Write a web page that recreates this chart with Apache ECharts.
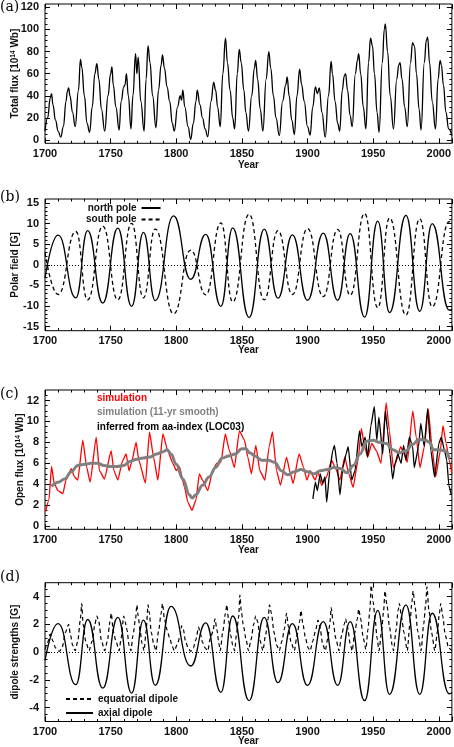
<!DOCTYPE html>
<html>
<head>
<meta charset="utf-8">
<title>Solar flux reconstruction</title>
<script src="https://cdn.jsdelivr.net/npm/echarts@6/dist/echarts.min.js"></script>
<style>
  html, body { margin: 0; padding: 0; background: #fff; }
  #chart { width: 454px; height: 747px; }
</style>
</head>
<body>
<div id="chart"></div>
<script>
  // ---- data: [year, value] ----
  // (a) total flux [1e14 Wb]
  var totalFlux = [
    [1700, 8], [1702, 20], [1704, 38], [1705, 42], [1706, 32], [1708, 18], [1710, 8], [1712, 2.5],
    [1714, 12], [1716, 35], [1717, 44], [1718, 47], [1719, 40], [1721, 25], [1723, 12],
    [1725.5, 45], [1727, 73], [1728, 66], [1730, 40], [1732, 15], [1734, 7],
    [1736, 30], [1738, 60], [1739.5, 69], [1741, 55], [1743, 28], [1745.5, 8],
    [1748, 40], [1750, 60], [1751, 66], [1752, 50], [1754, 30], [1756.5, 9],
    [1758, 35], [1760, 48], [1761, 50], [1762, 60], [1763.5, 40], [1765.5, 10],
    [1767, 40], [1769, 78], [1770, 60], [1771, 75], [1773, 35], [1775.5, 8],
    [1777, 55], [1778.5, 85], [1780, 70], [1782, 40], [1784.5, 11],
    [1786.5, 45], [1788.5, 68], [1789.5, 77], [1791, 65], [1793, 48], [1795, 35], [1797, 15], [1798.5, 8],
    [1801, 30], [1803, 40], [1804, 36], [1805, 45], [1806.5, 30], [1809, 12], [1811, 0.5],
    [1813, 15], [1815, 35], [1816, 45], [1818, 32], [1820, 20], [1822, 10], [1824, 3],
    [1826.5, 35], [1828.5, 52], [1830, 45], [1831.5, 30], [1833.5, 12],
    [1835.5, 60], [1837.5, 92], [1839, 70], [1841, 45], [1843, 20], [1844.5, 10],
    [1846.5, 60], [1848, 82], [1849.5, 70], [1851.5, 45], [1853, 25], [1855, 8],
    [1857.5, 40], [1859.5, 65], [1860.5, 72], [1862, 55], [1864, 28], [1866, 8],
    [1868.5, 55], [1870.5, 80], [1872, 65], [1874, 40], [1876, 20], [1878.5, 4],
    [1881, 35], [1883.5, 50], [1884.5, 57], [1886, 40], [1888, 18], [1890, 5],
    [1892, 40], [1894, 64], [1895.5, 50], [1897.5, 35], [1900, 12], [1902, 4.5],
    [1904, 30], [1906, 48], [1907.5, 42], [1909, 47], [1911, 25], [1913.5, 2.5],
    [1916, 40], [1918, 71], [1919, 60], [1921, 35], [1923, 15], [1924.5, 8],
    [1926.5, 45], [1928, 58], [1929, 60], [1930.5, 45], [1932.5, 22], [1934, 12],
    [1936.5, 60], [1938, 72], [1939, 78], [1940.5, 60], [1942.5, 30], [1944.5, 10],
    [1946.5, 70], [1948, 92], [1949.5, 85], [1951, 60], [1953, 25], [1954.5, 7],
    [1957, 70], [1958.5, 100], [1959.3, 105], [1961, 80], [1963, 40], [1965.5, 10],
    [1968, 55], [1969.5, 68], [1970.5, 70], [1972, 55], [1974, 30], [1976, 12],
    [1978.5, 70], [1980, 88], [1981.5, 85], [1983, 60], [1985, 28], [1986.5, 9],
    [1989, 70], [1990.5, 90], [1991.5, 93], [1993, 70], [1995, 35], [1997.5, 10],
    [1999.5, 55], [2001, 72], [2002, 68], [2003.5, 50], [2005.5, 25], [2007.5, 10], [2010, 4]
  ];

  // (b) polar field [G]
  var northPole = [
    [1700, -3.2], [1710, 7.2], [1723.5, -8.0], [1732.5, 8.3], [1744, -9.3], [1755.5, 8.9],
    [1766, -10.1], [1775, 7.9], [1784, -8.7], [1798, 11.9], [1811, -3.5], [1822.5, 7.4],
    [1834, -10.1], [1843, 9.0], [1855.5, -12.8], [1867, 8.7], [1877.5, -8.1], [1888.5, 7.3],
    [1900, -8.6], [1912, 7.7], [1923, -8.6], [1932.5, 7.6], [1943.5, -12.7], [1953.5, 10.6],
    [1962.5, -11.6], [1975, 12.0], [1985.5, -11.3], [1995, 10.0], [2008, -11.0], [2010, -10.8]
  ];
  var southPole = [
    [1700, 3.0], [1710, -7.2], [1723.5, 8.1], [1732.5, -8.5], [1744, 9.4], [1755.5, -8.5],
    [1766, 10.1], [1775, -8.0], [1784, 8.7], [1798, -11.9], [1811, 3.6], [1822.5, -7.3],
    [1834, 10.2], [1843, -9.0], [1855.5, 12.3], [1867, -8.5], [1877.5, 8.3], [1888.5, -7.2],
    [1900, 8.8], [1912, -7.7], [1923, 8.6], [1932.5, -7.4], [1943.5, 12.5], [1953.5, -10.4],
    [1962.5, 11.4], [1975, -12.2], [1985.5, 11.2], [1995, -10.2], [2008, 10.5], [2010, 10.0]
  ];

  // (c) open flux [1e14 Wb]
  var openSim = [
    [1700.4, 1.4], [1703, 2.5], [1705, 5.7], [1707, 4.1], [1709.8, 3.4], [1713.6, 3.1], [1716, 4.4],
    [1720, 5.5], [1722.5, 4.7], [1725, 4.4], [1728.8, 8.2], [1731.8, 5.6], [1734.4, 4.2], [1739, 8.5],
    [1741.5, 5.3], [1745.3, 4.5], [1750.4, 7.2], [1752.5, 5.3], [1755.5, 4.4], [1759, 6.2], [1761.8, 6.9],
    [1764, 5.3], [1766, 6.1], [1769.4, 8.0], [1771.5, 6.3], [1776.5, 4.1], [1779.6, 9.0], [1782.7, 6.6],
    [1786, 4.4], [1789.8, 8.8], [1793.5, 7.2], [1797.4, 6.0], [1800, 5.3], [1802.4, 5.7], [1806.3, 3.7],
    [1808.8, 2.3], [1812, 1.5], [1815, 2.5], [1817.6, 5.0], [1820, 4.4], [1824, 3.4], [1827.8, 5.3],
    [1830.8, 6.0], [1834, 6.1], [1837.4, 8.8], [1840.5, 7.2], [1844.3, 5.6], [1848.1, 9.1], [1852, 8.2],
    [1854.5, 6.6], [1857.3, 5.0], [1860.6, 7.7], [1863.7, 5.3], [1867.5, 4.4], [1870.8, 7.6], [1873.3, 9.0],
    [1876.4, 5.3], [1879.4, 3.9], [1884, 6.6], [1887, 5.0], [1889, 4.1], [1893.6, 6.9], [1897, 5.6],
    [1899.6, 4.4], [1902, 5.3], [1905.8, 4.4], [1908, 5.2], [1910.7, 3.9], [1914.5, 4.7], [1918.3, 6.3],
    [1921.5, 5.5], [1924.6, 4.4], [1928.4, 6.6], [1931.5, 5.0], [1934.7, 3.7], [1938.5, 6.3], [1941, 9.3],
    [1943.5, 7.6], [1945.8, 6.6], [1949, 7.9], [1952.5, 7.2], [1956, 6.0], [1959.9, 11.8], [1962.4, 9.1],
    [1965.4, 5.6], [1968, 6.3], [1971, 7.6], [1973.5, 6.9], [1976, 6.1], [1980.2, 11.0], [1982.8, 8.5],
    [1985.7, 5.6], [1989, 7.6], [1992, 11.2], [1994.8, 7.6], [1997.6, 4.7], [2001.2, 7.2], [2003.2, 9.6],
    [2005.6, 7.9], [2008, 6.3], [2010, 5.0]
  ];
  var openSmooth = [
    [1705, 3.8], [1710, 4.2], [1715, 4.5], [1720, 5.2], [1725, 5.8], [1730, 5.9], [1735, 6.0], [1740, 6.0],
    [1745, 5.8], [1750, 5.7], [1755, 5.7], [1760, 5.8], [1765, 6.2], [1770, 6.4], [1775, 6.5], [1780, 6.6],
    [1785, 6.9], [1790, 7.1], [1793, 7.3], [1796, 6.9], [1800, 5.9], [1805, 4.5], [1810, 3.0], [1812, 2.7],
    [1815, 3.0], [1820, 3.9], [1825, 4.7], [1830, 5.6], [1835, 6.5], [1840, 6.7], [1845, 6.9], [1850, 7.4],
    [1853, 7.4], [1856, 7.0], [1860, 6.7], [1865, 6.3], [1870, 6.3], [1875, 6.1], [1880, 5.3], [1885, 4.9],
    [1890, 5.2], [1895, 5.4], [1900, 5.2], [1905, 5.0], [1910, 5.3], [1915, 5.4], [1920, 5.6], [1925, 5.5],
    [1930, 5.1], [1935, 5.8], [1940, 6.9], [1945, 8.1], [1950, 8.2], [1955, 8.0], [1960, 7.9], [1965, 7.3],
    [1970, 7.0], [1975, 7.2], [1980, 7.8], [1985, 8.3], [1990, 8.2], [1993, 8.0], [1996, 7.3], [2000, 7.3],
    [2005, 7.2], [2008, 6.5]
  ];
  var openAa = [
    [1904.1, 2.6], [1906, 4.2], [1907.5, 3.4], [1909.7, 5.0], [1911.5, 4.1], [1913.3, 4.7], [1914.6, 2.3],
    [1917, 5.3], [1919.2, 7.2], [1920.5, 7.7], [1922.5, 6.0], [1924.7, 3.0], [1927, 5.6], [1929.4, 6.9],
    [1931, 7.6], [1933.7, 4.4], [1936.2, 5.3], [1939.6, 9.1], [1941.4, 7.6], [1943.9, 8.5], [1945.8, 6.6],
    [1948.3, 9.6], [1950.9, 11.4], [1952.8, 8.2], [1954.4, 10.4], [1957.3, 6.9], [1959.3, 11.0],
    [1961, 9.1], [1962.8, 6.9], [1964.9, 4.5], [1966.8, 6.0], [1968.8, 6.9], [1971.3, 6.0], [1973.2, 7.7],
    [1975, 6.3], [1977.6, 8.5], [1980.1, 7.6], [1981.3, 5.6], [1984.6, 7.6], [1986.3, 9.8], [1988.9, 7.6],
    [1991.5, 11.2], [1994, 7.2], [1996.8, 4.7], [2000.1, 7.9], [2001.9, 8.5], [2004.4, 7.2], [2006.1, 6.3],
    [2007.7, 3.9], [2009.5, 3.0]
  ];

  // (d) dipole strengths [G]
  var dipoleEq = [
    [1700, 0.2], [1702, 0.7], [1704, 1.3], [1706, 0.8], [1708, 0.3], [1711, 0.05],
    [1713, 0.3], [1715.5, 1.4], [1718, 2.0], [1719.5, 1.2], [1721, 0.5], [1723, 0.1],
    [1725, 0.8], [1727, 2.4], [1728, 3.5], [1729, 2.0], [1731, 0.8], [1733.5, 0.1],
    [1736, 0.8], [1738, 2.0], [1739.5, 2.6], [1741, 2.2], [1743, 0.8], [1745.5, 0.1],
    [1747.5, 0.8], [1749.5, 2.2], [1750.5, 2.8], [1752, 1.5], [1754, 0.8], [1756.5, 0.1],
    [1758, 1.0], [1760, 2.6], [1761, 2.2], [1762.5, 1.6], [1764, 0.5], [1765.5, 0.1],
    [1767, 1.2], [1769, 2.4], [1770, 3.4], [1771, 2.6], [1772.5, 1.5], [1774, 0.6], [1775.5, 0.1],
    [1777, 1.5], [1778.5, 3.4], [1779.5, 2.8], [1781, 1.4], [1783, 0.5], [1784.5, 0.1],
    [1786.5, 1.5], [1788.5, 2.8], [1789.5, 3.5], [1791, 2.4], [1793, 1.6], [1795, 1.0], [1797, 0.4], [1798.5, 0.1],
    [1801, 0.6], [1803, 1.2], [1804, 1.9], [1805.5, 1.6], [1807, 0.8], [1809, 0.3], [1811, 0.05],
    [1813, 0.3], [1815, 0.9], [1817, 1.8], [1818.5, 1.3], [1820, 0.7], [1822, 0.3], [1824, 0.1],
    [1826, 1.0], [1828, 1.5], [1829.5, 2.4], [1831, 1.6], [1832.5, 0.6], [1833.5, 0.1],
    [1835.5, 1.5], [1837.5, 2.8], [1838.5, 3.4], [1840, 2.2], [1841.5, 1.2], [1843, 0.5], [1844.5, 0.1],
    [1846, 1.4], [1847.5, 2.5], [1848.5, 4.1], [1849.5, 3.0], [1851, 2.0], [1853, 1.0], [1855, 0.1],
    [1857, 0.9], [1859, 2.0], [1860.5, 2.6], [1862, 2.2], [1864, 0.8], [1866, 0.1],
    [1868, 1.2], [1870, 2.4], [1871, 3.4], [1872.5, 2.8], [1874.5, 1.4], [1876.5, 0.5], [1878.5, 0.1],
    [1880.5, 0.8], [1882.5, 1.7], [1884, 2.8], [1885.5, 1.8], [1887.5, 0.7], [1890, 0.1],
    [1892, 1.2], [1894, 2.2], [1895, 3.0], [1896.5, 2.0], [1898.5, 1.0], [1900.5, 0.3], [1902, 0.1],
    [1904, 0.8], [1906, 1.5], [1908, 2.3], [1909.5, 1.8], [1911.5, 0.6], [1913.5, 0.1],
    [1915.5, 1.0], [1917, 2.0], [1918, 3.2], [1919.5, 2.2], [1921.5, 1.0], [1924, 0.1],
    [1926, 1.2], [1928, 2.0], [1929, 2.4], [1930.5, 1.8], [1932.5, 0.6], [1934, 0.1],
    [1936, 1.4], [1938, 2.4], [1939, 3.1], [1940.5, 2.4], [1942.5, 1.0], [1944.5, 0.2],
    [1946, 1.6], [1947.5, 3.0], [1948.5, 4.8], [1950, 3.6], [1951.5, 2.4], [1953, 1.0], [1954.5, 0.1],
    [1956.5, 1.6], [1958, 3.0], [1959, 4.4], [1960.5, 3.4], [1962.5, 1.8], [1964.5, 0.5], [1965.5, 0.1],
    [1967.5, 1.6], [1969, 3.0], [1970, 3.5], [1971.5, 2.6], [1973.5, 1.4], [1976, 0.1],
    [1978, 2.0], [1979.5, 3.6], [1980.5, 4.4], [1982, 3.2], [1984, 1.5], [1986.5, 0.1],
    [1988.5, 2.0], [1990, 3.4], [1991, 4.7], [1992.5, 3.0], [1994.5, 1.4], [1997, 0.1],
    [1999, 1.5], [2000.5, 2.8], [2001.5, 3.5], [2003, 2.6], [2005, 1.2], [2007.5, 0.3], [2010, 0.1]
  ];
  var dipoleAx = [
    [1700, -0.6], [1710, 2.05], [1723.5, -2.35], [1732.5, 2.35], [1744, -2.6], [1755.5, 2.5],
    [1766, -2.95], [1775, 2.3], [1784, -2.4], [1796, 3.3], [1811, -1.0], [1822.5, 2.1],
    [1834, -2.9], [1843, 2.6], [1855.5, -3.5], [1867, 2.5], [1877.5, -2.2], [1888.5, 2.05],
    [1900, -2.4], [1912, 2.2], [1923, -2.4], [1932.5, 2.2], [1943.5, -3.5], [1953.5, 3.0],
    [1962.5, -3.05], [1975, 3.4], [1985.5, -3.05], [1995, 2.8], [2008, -3.0], [2010, -2.9]
  ];

  // tick values for the y axes
  var yTicksA = [0, 20, 40, 60, 80, 100, 120];
  var yMinorA = [5, 10, 15, 25, 30, 35, 45, 50, 55, 65, 70, 75, 85, 90, 95, 105, 110, 115];
  var yTicksB = [-15, -10, -5, 0, 5, 10, 15];
  var yMinorB = [-14, -13, -12, -11, -9, -8, -7, -6, -4, -3, -2, -1, 1, 2, 3, 4, 6, 7, 8, 9, 11, 12, 13, 14];
  var yTicksC = [0, 2, 4, 6, 8, 10, 12];
  var yMinorC = [0.5, 1, 1.5, 2.5, 3, 3.5, 4.5, 5, 5.5, 6.5, 7, 7.5, 8.5, 9, 9.5, 10.5, 11, 11.5, 12.5];
  var yTicksD = [-4, -2, 0, 2, 4];
  var yMinorD = [-4.5, -3.5, -3, -2.5, -1.5, -1, -0.5, 0.5, 1, 1.5, 2.5, 3, 3.5, 4.5];

  var FONT = 'Liberation Sans';

  // panel layout (pixels)
  var panels = [
    { top: 4, height: 139.3, min: -3, max: 123, major: yTicksA, minor: yMinorA,
      name: 'Total flux [10{s|14} Wb]', yGap: 25, xGap: 17 },
    { top: 199, height: 131.7, min: -16, max: 16, major: yTicksB, minor: yMinorB,
      name: 'Polar field [G]', yGap: 25, xGap: 15 },
    { top: 390, height: 139.3, min: -0.3, max: 13, major: yTicksC, minor: yMinorC,
      name: 'Open flux [10{s|14} Wb]', yGap: 20, xGap: 15.5 },
    { top: 582.7, height: 140.3, min: -5, max: 5, major: yTicksD, minor: yMinorD,
      name: 'dipole strengths [G]', yGap: 25, xGap: 14.5 }
  ];

  var tickLine = { color: '#000', width: 1 };
  var labelStyle = { fontFamily: FONT, fontSize: 11, fontWeight: 'bold', color: '#111' };
  var grids = [], xAxes = [], yAxes = [];

  panels.forEach(function (p, i) {
    grids.push({ left: 45, right: 2, top: p.top, height: p.height,
      show: true, borderColor: '#000', borderWidth: 1 });

    ['bottom', 'top'].forEach(function (pos) {
      var main = pos === 'bottom';
      xAxes.push({
        gridIndex: i, type: 'value', position: pos,
        min: 1700, max: 2010, interval: 50,
        name: main ? 'Year' : '', nameLocation: 'middle', nameGap: p.xGap, nameMoveOverlap: false,
        nameTextStyle: { fontFamily: FONT, fontSize: 10, fontWeight: 'bold', color: '#111' },
        axisLine: { show: false, onZero: false },
        splitLine: { show: false },
        axisTick: { inside: true, length: 5, lineStyle: tickLine },
        minorTick: { show: true, splitNumber: 5, length: 2.5, lineStyle: tickLine },
        axisLabel: Object.assign({ show: main, margin: 5,
          formatter: function (v) { return String(v); } }, labelStyle)
      });
    });

    ['left', 'right'].forEach(function (pos) {
      var main = pos === 'left';
      yAxes.push({
        gridIndex: i, type: 'value', position: pos, min: p.min, max: p.max,
        name: main ? p.name : '', nameLocation: 'middle', nameGap: p.yGap, nameMoveOverlap: false,
        nameTextStyle: { fontFamily: FONT, fontSize: 10, fontWeight: 'bold', color: '#111',
          rich: { s: { fontFamily: FONT, fontSize: 6.5, fontWeight: 'bold', verticalAlign: 'top', color: '#111' } } },
        axisLine: { show: false, onZero: false },
        splitLine: { show: false },
        axisTick: { inside: true, length: 5, lineStyle: tickLine, customValues: p.major },
        axisLabel: Object.assign({ show: main, margin: 6, customValues: p.major }, labelStyle)
      });
      yAxes.push({
        gridIndex: i, type: 'value', position: pos, min: p.min, max: p.max,
        axisLine: { show: false, onZero: false },
        splitLine: { show: false },
        axisTick: { inside: true, length: 2.5, lineStyle: tickLine, customValues: p.minor },
        axisLabel: { show: false }
      });
    });
  });

  var zeroLine = {
    silent: true, symbol: 'none', label: { show: false },
    lineStyle: { type: [1, 2], color: '#000', width: 1 },
    data: [{ yAxis: 0 }]
  };

  function line(name, panel, data, color, width, type, smooth, extra) {
    var s = {
      name: name, type: 'line', xAxisIndex: panel * 2, yAxisIndex: panel * 4,
      data: data, showSymbol: false, symbol: 'none', smooth: smooth, smoothMonotone: 'x',
      animation: false, silent: true,
      lineStyle: { color: color, width: width, type: type }, itemStyle: { color: color }
    };
    for (var k in extra) s[k] = extra[k];
    return s;
  }

  var series = [
    line('total flux', 0, totalFlux, '#000', 1.3, 'solid', 0.45),
    line('north pole', 1, northPole, '#000', 1.3, 'solid', 0.5, { markLine: zeroLine }),
    line('south pole', 1, southPole, '#000', 1.3, [4, 3], 0.5),
    line('simulation', 2, openSim, '#ff0000', 1.3, 'solid', 0.15),
    line('inferred from aa-index (LOC03)', 2, openAa, '#000', 1.3, 'solid', 0.15),
    line('simulation (11-yr smooth)', 2, openSmooth, '#808080', 3, 'solid', 0.4),
    line('equatorial dipole', 3, dipoleEq, '#000', 1.2, [4, 3], 0.25, { markLine: zeroLine }),
    line('axial dipole', 3, dipoleAx, '#000', 1.3, 'solid', 0.5)
  ];

  var legendText = { fontFamily: FONT, fontSize: 10, fontWeight: 'bold', color: '#111' };
  var lineOnly = { itemStyle: { opacity: 0, borderWidth: 0 } };
  var noIcon = { icon: 'none', itemStyle: { opacity: 0 }, lineStyle: { opacity: 0 } };

  var option = {
    backgroundColor: '#fff',
    animation: false,
    grid: grids,
    xAxis: xAxes,
    yAxis: yAxes,
    series: series,
    legend: [
      Object.assign({ orient: 'vertical', left: 86, top: 203, align: 'right', itemWidth: 19, itemHeight: 8,
        itemGap: 1.6, padding: 0, selectedMode: false, textStyle: legendText,
        data: ['north pole', 'south pole'] }, lineOnly),
      { orient: 'vertical', left: 92, top: 393, itemWidth: 0, itemHeight: 10,
        itemGap: 4.5, padding: 0, selectedMode: false, textStyle: legendText,
        data: [
          Object.assign({ name: 'simulation', textStyle: { color: '#ff0000' } }, noIcon),
          Object.assign({ name: 'simulation (11-yr smooth)', textStyle: { color: '#808080' } }, noIcon),
          Object.assign({ name: 'inferred from aa-index (LOC03)', textStyle: { color: '#000' } }, noIcon)
        ] },
      Object.assign({ orient: 'vertical', left: 65, top: 694, itemWidth: 27, itemHeight: 8,
        itemGap: 4, padding: 0, selectedMode: false, textStyle: legendText,
        data: ['equatorial dipole', 'axial dipole'] }, lineOnly)
    ],
    graphic: [
      { type: 'text', left: 0, top: 0, style: { text: '(a)', font: '14px "DejaVu Serif"', fill: '#000' } },
      { type: 'text', left: 0, top: 190, style: { text: '(b)', font: '14px "DejaVu Serif"', fill: '#000' } },
      { type: 'text', left: 0, top: 387, style: { text: '(c)', font: '14px "DejaVu Serif"', fill: '#000' } },
      { type: 'text', left: 0, top: 570, style: { text: '(d)', font: '14px "DejaVu Serif"', fill: '#000' } }
    ]
  };

  var chart = echarts.init(document.getElementById('chart'), null, { renderer: 'canvas' });
  chart.setOption(option);
  window.addEventListener('resize', chart.resize);
</script>
</body>
</html>
